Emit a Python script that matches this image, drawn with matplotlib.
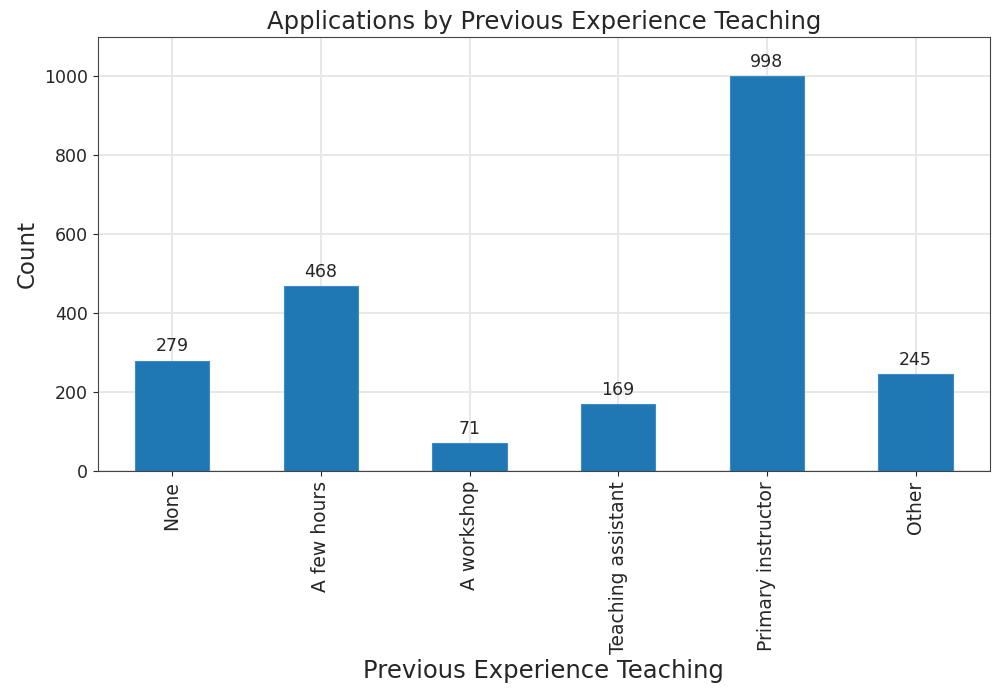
import matplotlib
matplotlib.use("Agg")
import matplotlib.pyplot as plt

categories = ["None", "A few hours", "A workshop", "Teaching assistant",
              "Primary instructor", "Other"]
counts = [279, 468, 71, 169, 998, 245]

txt = "#262626"
plt.rcParams["text.color"] = txt
plt.rcParams["axes.labelcolor"] = txt
plt.rcParams["xtick.color"] = txt
plt.rcParams["ytick.color"] = txt

fig = plt.figure(figsize=(9.97, 6.98), dpi=100)
ax = fig.add_axes([0.098, 0.325, 0.895, 0.622])

x = range(len(categories))
ax.bar(x, counts, width=0.5, color="#1f77b4", edgecolor="#3d8cc6",
       linewidth=0.8, zorder=2)
ax.set_xlim(-0.5, len(categories) - 0.5)
ax.set_ylim(0, max(counts) * 1.1)

for xi, c in zip(x, counts):
    ax.annotate(str(c), (xi, c), xytext=(0, 4), textcoords="offset points",
                ha="center", va="bottom", fontsize=12.5)

ax.set_xticks(list(x))
ax.set_xticklabels(categories, rotation=90, fontsize=13.5)
ax.tick_params(axis="y", labelsize=12.5)
for s in ax.spines.values():
    s.set_color("#444444")
ax.grid(True, color="#e8e8e8", linewidth=1.4, zorder=0)
ax.set_axisbelow(True)

ax.set_title("Applications by Previous Experience Teaching", fontsize=17.5)
ax.set_xlabel("Previous Experience Teaching", fontsize=17.5, labelpad=4)
ax.set_ylabel("Count", fontsize=16.5)

fig.savefig("out.png", dpi=100)
